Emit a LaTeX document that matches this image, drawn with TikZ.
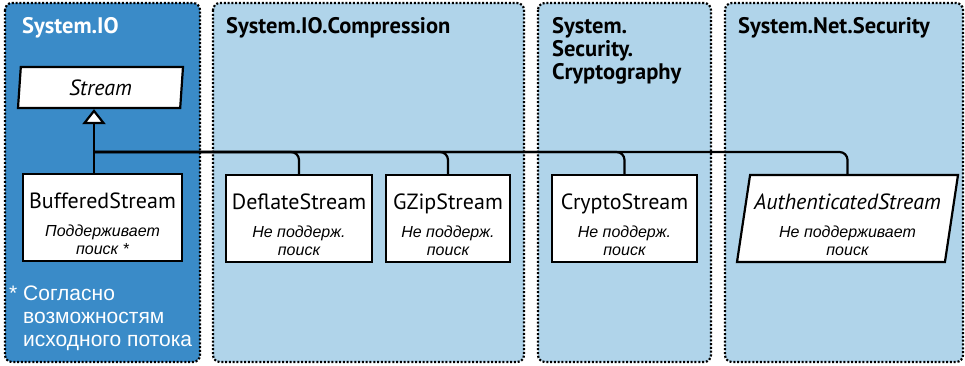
\documentclass[tikz,border=0pt]{standalone}
\usepackage{fontspec}
\usepackage{tikz}
\usetikzlibrary{positioning,arrows.meta,shapes.geometric}
\newfontfamily\headfont{PT Sans}
\newfontfamily\notefont{Liberation Sans}
\definecolor{iodark}{HTML}{3A8BC8}
\definecolor{nslight}{HTML}{B0D4EA}
\definecolor{ink}{HTML}{000000}
\tikzset{panel/.style={draw=ink,line width=2.2pt,dash pattern=on 2pt off 1.8pt,rounded corners=7pt}}
\tikzset{nstitle/.style={anchor=north west,inner sep=0pt,align=left,font=\headfont\bfseries\fontsize{22.5}{23}\selectfont}}
\tikzset{cls/.style={draw=ink,fill=white,line width=2.2pt,align=center,inner sep=0pt,minimum height=87pt,
  font=\notefont\itshape\fontsize{16}{18}\selectfont}}
\tikzset{abstractcls/.style={cls,trapezium,trapezium left angle=80,trapezium right angle=100,trapezium stretches body}}
\tikzset{link/.style={draw=ink,line width=2.2pt}}
\newcommand{\clsname}[1]{{\headfont\upshape\fontsize{22}{18}\selectfont\rule{0pt}{28pt}#1}}
\newcommand{\absname}[1]{{\headfont\itshape\fontsize{22}{18}\selectfont\rule{0pt}{28pt}#1}}

\begin{document}
\begin{tikzpicture}[x=1pt,y=-1pt]
        \useasboundingbox (0,0) rectangle (965,366);
        % namespaces
        \draw[panel,fill=iodark](5,3)rectangle(200,362);
        \draw[panel,fill=nslight](213,3)rectangle(524,362);
        \draw[panel,fill=nslight](538,3)rectangle(711,362);
        \draw[panel,fill=nslight](725,3)rectangle(963,362);
        \node[nstitle,text=white] (iotitle) at (22,17){System.IO};
        \node[nstitle] (comptitle) at (226,17){System.IO.Compression};
        \node[nstitle] (cryptitle) at (552,17){System.\\Security.\\Cryptography};
        \node[nstitle] (nettitle) at (738,17){System.Net.Security};
        % classes
        \node[abstractcls, minimum height=41pt, minimum width=165pt,
          font=\headfont\itshape\fontsize{22}{18}\selectfont] (stream) at (100.5,87.5){Stream};
        \node[cls, minimum width=159pt] (bs) at (102.5,217.5){\clsname{BufferedStream}\\[10pt]Поддерживает\\поиск *};
        \node[cls, minimum width=146pt] (ds) at (299,218.5){\clsname{DeflateStream}\\[10pt]Не поддерж.\\поиск};
        \node[cls, minimum width=124pt] (gz) at (448,218.5){\clsname{GZipStream}\\[10pt]Не поддерж.\\поиск};
        \node[cls, minimum width=145pt] (cs) at (624.5,218.5){\clsname{CryptoStream}\\[10pt]Не поддерж.\\поиск};
        \node[abstractcls, minimum width=221pt] (auth) at (847.5,218.5){\absname{AuthenticatedStream}\\[10pt]Не поддерживает\\поиск};
        \node[anchor=north west, inner sep=0pt, align=left, text=white,
          font=\notefont\fontsize{21}{23}\selectfont] (note) at (23,286){\llap{* }Согласно\\возможностям\\исходного потока};
        % inheritance
        \coordinate (bus) at (94,152);
        \draw[link,-{Triangle[width=23pt,length=15pt,fill=white]}] (bus |- bs.north) -- (bus |- stream.south);
        \draw[link,rounded corners=8pt] (bus) -| (ds.north);
        \draw[link,rounded corners=8pt] (bus) -| (gz.north);
        \draw[link,rounded corners=8pt] (bus) -| (cs.north);
        \draw[link,rounded corners=8pt] (bus) -| (auth.north);
      \end{tikzpicture}
\end{document}
